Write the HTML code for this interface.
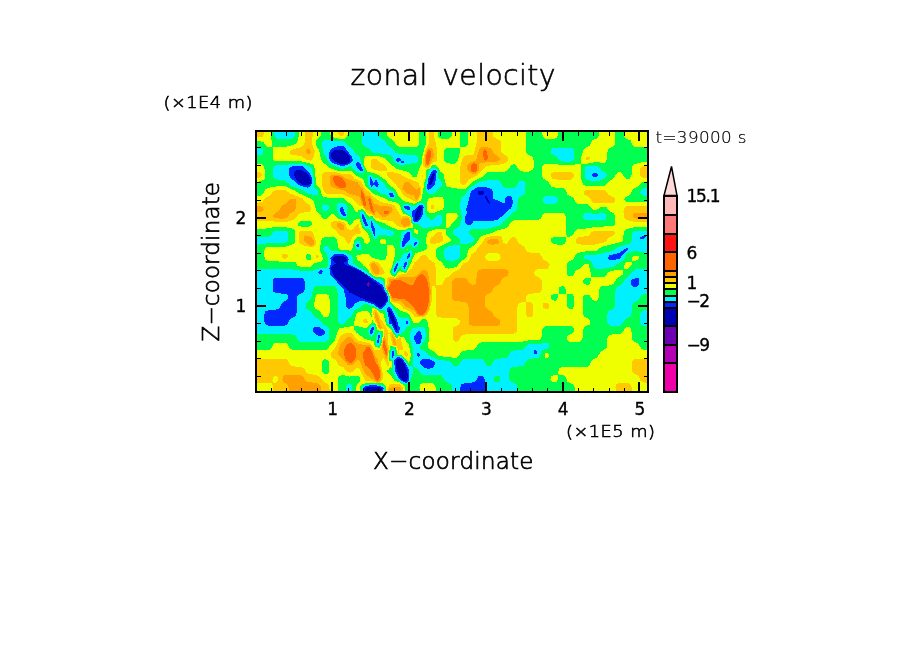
<!DOCTYPE html>
<html lang="en"><head><meta charset="utf-8"><title>zonal velocity</title>
<style>
html,body{margin:0;padding:0;background:#fff;}
body{width:904px;height:654px;overflow:hidden;}
svg{display:block;}
text{font-family:"Liberation Sans",sans-serif;fill:#000;}
.tk{font-family:"DejaVu Sans","Liberation Sans",sans-serif;stroke:#000;stroke-width:0.35px;}
.lf{font-family:"DejaVu Sans Light","DejaVu Sans","Liberation Sans",sans-serif;font-weight:200;stroke:#000;}
</style></head><body>
<svg width="904" height="654" viewBox="0 0 904 654">
<rect width="904" height="654" fill="#fff"/>
<defs><clipPath id="pc"><rect x="256" y="131" width="392" height="261"/></clipPath></defs>
<g clip-path="url(#pc)" shape-rendering="crispEdges" fill-rule="evenodd">
<rect x="256" y="131" width="392" height="261" fill="#6e00b4"/>
<path fill="#0000b4" d="M248.5,123.5 655.5,123.5 655.5,398.5 248.5,398.5ZM368,282 367,283 366.5,285 368,287 369,286.5 369.5,285 369.5,283Z"/>
<path fill="#0028ff" d="M248.5,123.5 655.5,123.5 655.5,398.5 248.5,398.5ZM331,153 331,156 332,159 334,161 337.5,163 341,164 345.5,164 348.5,163 350,161 350.5,159 349.5,156 347.5,153.5 342.5,150 335,150 333,151ZM295,171 294,173 294.5,176 296,179 299,182.5 302,184.5 305.5,185 308.5,185 310.5,183.5 311,181.5 310.5,178.5 308.5,175 306.5,173 303.5,171 300.5,170 297.5,170ZM434,173 432,174.5 430,179 429,184.5 430,185.5 432,183.5 434,179 435,174ZM478,191.5 477.5,193.5 479,195 482,195 483.5,193.5 483.5,191.5 482,190.5 480,190.5ZM485,196 484.5,196.5 487,201.5 489.5,204 489.5,202.5 489,200.5 486.5,196.5ZM421,206 420,206 418,207.5 414.5,215 414.5,219 414.5,220.5 416,221 418,220 421,214.5 422,208.5 421.5,206.5ZM333,257.5 332,259.5 332.5,260.5 336,263.5 333,265 331.5,266.5 331,268.5 332,272.5 336,279 346.5,289 349.5,292.5 366,300 374,303 379,307 381,307 383,306 386.5,301 387,298 385.5,294 381.5,287 370,278 362.5,272.5 355,268.5 344.5,264.5 344,263.5 344.5,262.5 346.5,261 347,259.5 346.5,258.5 345.5,257 342.5,256 339,255.5 336,256ZM389,309 388.5,311.5 391,320.5 395,328.5 396.5,330.5 397.5,329.5 395.5,321 392.5,313.5 390,310ZM397.5,358.5 396,360 395.5,363 396,367 397.5,372 399.5,376.5 401.5,379 403.5,381 405.5,381 407,380.5 408,377.5 407.5,373 406.5,369 404.5,364 402.5,361 399.5,358.5ZM364.5,389.5 365,390.5 367,391.5 374,392.5 379,391.5 381,390.5 382,389.5 381.5,388.5 380,387.5 373,386.5 367,387.5 364.5,388.5Z"/>
<path fill="#00f0ff" d="M248.5,123.5 655.5,123.5 655.5,398.5 484.5,398.5 484.5,378.5 483,376 480,375.5 478,376.5 476,380.5 474,382 472,382.5 465,383 461.5,384.5 460.5,387.5 460,398.5 376.5,398.5 376.5,394.5 377.5,393.5 382.5,391.5 383,390.5 383.5,388.5 382,387 380,386 373,385 369,385.5 365,386.5 363.5,387.5 363,389.5 363.5,391.5 364.5,392 372,394.5 372.5,398.5 248.5,398.5ZM330,150 329,154 329.5,159 331,162 333,163 340,165.5 345.5,165.5 349.5,164 353,160 352,157 346,149 343.5,146.5 340,146 337,146.5 332,148ZM395.5,160 396,161 397.5,162 400.5,161 401.5,160 401,159 399.5,158 397.5,158ZM401,162 401.5,163 402.5,163.5 404,163 404,162 402.5,160.5 401.5,161ZM356.5,162.5 356,164 357,168 360.5,171 362.5,171 363,170 362.5,169 360.5,164.5 358.5,162.5 357.5,162ZM290,167.5 289,169 288.5,173 289.5,176 290.5,178 294.5,181 298.5,185 300.5,186 307.5,187.5 309.5,187 310.5,186 312.5,182.5 312,178 309.5,173 304.5,168 302.5,166.5 299.5,166 293.5,166ZM435,170 433.5,170 431.5,172 428.5,178 427,186.5 427,188.5 428,190 430,189 434,185.5 435,184.5 436.5,173 436.5,171ZM592,174 592,176 593.5,177 596,177 597.5,176 597.5,174 595.5,172.5 593.5,172.5ZM370,177 369.5,178 369.5,181.5 371,186.5 372,187 373,185 374,184.5 377,187.5 378,186.5 378.5,184.5 377,180.5 376,179.5 374,183 373,182.5 371,177.5ZM465,222 467,224.5 469,225.5 471,224.5 472.5,223 473,221 474,220.5 493.5,220.5 497.5,220 504.5,214 508.5,209.5 510.5,209 511.5,207.5 513,202.5 512,197.5 509.5,195.5 507.5,196 505.5,198.5 504.5,203 503.5,203 493,198.5 492.5,191.5 491.5,189.5 490,188.5 484,186.5 481,186.5 478,187 472,190.5 470.5,192.5 468,203.5 466.5,207.5 466,209.5 467,213 465,217ZM389,193.5 389,194.5 390,196.5 392.5,197.5 394,196.5 393.5,194.5 392.5,193 390,192.5ZM421,204.5 419,205 414.5,210 411.5,211 411.5,211.5 411.5,214 412.5,217 413.5,221 414.5,222 417,222.5 419,221 420.5,219 422.5,215 423.5,207.5 423,205.5ZM404,206.5 404,207.5 405.5,209 407.5,210 409.5,209.5 410,207.5 408.5,206 405.5,205.5ZM341,207 340,208.5 340,210.5 341,213 343.5,216 344.5,216.5 345.5,216 345.5,214 343.5,209 342.5,207.5ZM361.5,213.5 362,218 363.5,222 365.5,226 367,226.5 368,225 363.5,215 362.5,213.5ZM371,220.5 370.5,225 373.5,234 375,236.5 375.5,234 374.5,228 372,222ZM408.5,231.5 406,233 405,234 401.5,244 401.5,246.5 402.5,247 404,246.5 406.5,243 410,240 410,233ZM639.5,238 640.5,239 643.5,238.5 645.5,237.5 646,236 644.5,235.5 642.5,236 640.5,237ZM417,241.5 416,241.5 414,243 414,245.5 414.5,246 416.5,244ZM357.5,243.5 357,244 356.5,245.5 357.5,247 358.5,247.5 359,245.5 358.5,244.5ZM628,248.5 627,248 625.5,248.5 619,253 609.5,255.5 608.5,256.5 608,258.5 609.5,260 612,260.5 620,258.5 621.5,255.5 627,250.5ZM410.5,252.5 409.5,252.5 407,256.5 406.5,258.5 407.5,259 409.5,256.5ZM332,256 330.5,258.5 331,263.5 329.5,268.5 330,274.5 343.5,289 345.5,297 346,306 347.5,308 348.5,309 350.5,308.5 352.5,307 355.5,303 361.5,300.5 363.5,301 373,304 379,308.5 382,308.5 384,307 388,301 388,298 387,294 384.5,290 383,285.5 382,284.5 375,280 362.5,271.5 349,264.5 348,263.5 348.5,259.5 348,257.5 345.5,255 342.5,254 339,254 334,254.5ZM405.5,262 404.5,263.5 403.5,266.5 404,268.5 404.5,269 405.5,267.5 406.5,264.5 406.5,262ZM397.5,263 396.5,263.5 394.5,268.5 394,270.5 394.5,272 396,270.5 398,264.5ZM320,270 319,271 318.5,272.5 319,274 321,274.5 322,273.5 322.5,271.5 322,270.5ZM302,278 298.5,277.5 279,277.5 276,277.5 273.5,279 272.5,281 272.5,285 272.5,290 273.5,292 276,293 286,294 288,296 288,298 287,300 282,303 280,307 278,309 276,309.5 269,310 265.5,311.5 264.5,313.5 264,318.5 264.5,322.5 265.5,324.5 267.5,325.5 270,326 285,325.5 287.5,324.5 290,319 295.5,316.5 296.5,313.5 297,299 297.5,296.5 299.5,294 303.5,292 305,289 304.5,281 303.5,279ZM636.5,278 632,279.5 630.5,282 631,285 633,287 636.5,287 638,286 639,284 639.5,282 639,280 638.5,278.5ZM389,307 387,308 387,309 388.5,316.5 388.5,322.5 389,323.5 391.5,324.5 395.5,332 396.5,333 398.5,332.5 400,328.5 398.5,325.5 397,320.5 393,311.5 390,307.5ZM406.5,321 406,323.5 406.5,324.5 407.5,324.5 408,321.5 407.5,321ZM313,328.5 313,331.5 314.5,333.5 316.5,335 320,336 322,335.5 324,334.5 324.5,333.5 324.5,331.5 323,329.5 319,327 315.5,326.5ZM373,326 371.5,327.5 370.5,330.5 370,333.5 371,334.5 372.5,333.5 373.5,330.5 374,327.5ZM419,331 417,332.5 414,336.5 413.5,337.5 414,339.5 416.5,344 418,344.5 420,344 420.5,343 422,337.5 421,332.5 420,331.5ZM379,334 378,336.5 377,343 378,344 379,341.5 380,335.5ZM535,350 534,350.5 533.5,352 534,354 535,354.5 536.5,354 537.5,352 536,350ZM393.5,350.5 392.5,351 391.5,355 391.5,357 392.5,358 393.5,356.5 394,352ZM418,352.5 417,353.5 416.5,355 418,356.5 419,356.5 419.5,356 419.5,354 419,353ZM397.5,357 395,359 394,362 395.5,372 399,378.5 401.5,381 404.5,382.5 406.5,382.5 408.5,380.5 409,378.5 409,372 408.5,369 405.5,363 402.5,359 399.5,357ZM420,361 420,363 421.5,365 424,367.5 427,368.5 430,368.5 432,368 434,366 435,364 434.5,362 433.5,361 430,359.5 423,359 421,360Z"/>
<path fill="#00ff50" d="M248.5,123.5 274,123.5 274,133.5 275,137 277,138.5 283,139 291,139 293.5,137.5 295,134.5 295,123.5 362,123.5 362.5,143.5 363.5,145.5 369,148.5 371,151 373,152.5 385,154 391.5,155.5 392.5,157 394,161 395.5,163 398.5,164.5 402.5,165.5 406.5,164 416,163 418,161 418.5,158 418,157 416,155.5 406.5,155 397.5,153.5 395.5,152.5 392.5,149 388,145.5 384.5,140.5 381,138.5 379,136.5 378.5,133.5 378.5,123.5 655.5,123.5 655.5,188 644.5,188 641.5,190 640.5,192.5 641.5,194.5 643.5,195.5 655.5,196 655.5,230.5 638.5,230.5 634,231 632,233 631.5,241 630.5,243 629,244 618,247 614,250 612,251 597.5,254.5 586,255 584,256.5 584,257.5 585,258.5 589.5,260 591.5,261.5 593.5,266.5 594.5,268 596.5,269 601.5,269 614,266.5 617,264 623,260.5 624.5,258.5 626,254.5 628,253 630,252 636.5,251 644.5,252.5 655.5,253 655.5,269 638.5,269 635,269.5 633,271 629.5,275.5 625,279.5 622,284 618,286.5 616.5,288 615.5,291 615,306 614,308.5 608.5,311.5 607.5,313.5 607,317.5 607.5,322.5 608.5,324.5 609.5,325.5 615,326 620,325.5 622.5,323.5 625,319 630.5,316.5 631.5,313.5 632,306 632.5,304 634,302.5 638.5,300 641.5,295 644.5,293.5 655.5,293.5 655.5,310 645.5,310 642.5,310.5 640.5,313 640,317.5 640,322.5 641,324.5 642.5,325.5 645.5,326 655.5,326 655.5,398.5 517.5,398.5 517.5,388.5 516.5,385.5 515,383.5 510.5,381.5 509.5,379.5 509,373 510,369 510.5,368 512.5,367 523,366 524,365 526,361 528,359 538.5,358 539.5,356.5 541.5,351 543.5,349.5 548,348 549,347 549,345 548.5,343.5 545.5,342.5 539.5,344 528,344.5 523,349.5 511.5,351 510.5,352 508.5,356 506.5,358 495.5,359 493.5,361 491.5,365 489.5,366 487,366 486,365 484,361 482,359 475,358.5 467,358.5 463.5,359 461.5,361 458.5,365.5 455.5,366 453.5,365.5 451,362 449.5,361 439,360 429.5,356 425.5,352 420.5,349 420,347 425,340 425.5,336.5 425.5,331.5 425,328.5 424,327 422,326.5 412,328.5 411.5,329.5 410,333.5 410,338.5 412.5,346 413.5,352 412.5,366.5 408.5,366 405.5,361 401.5,356.5 399.5,356 395.5,356.5 395,350 394.5,349 392.5,348.5 390.5,352 390,357 390,359 392.5,360 393,361 393.5,368 392.5,370 393,372 396.5,378.5 402.5,383.5 404.5,384 408.5,383 410,381.5 412.5,374 413,368 413.5,367 417,368 420.5,373 423,374.5 438,375 441.5,375.5 443,377.5 445.5,381.5 449.5,383.5 451.5,385.5 452,388.5 452,398.5 380,398.5 380.5,394.5 384,392.5 384.5,391.5 384.5,387.5 384,386.5 381,385 373,384 364.5,385 362,386.5 361.5,387.5 361.5,391.5 363.5,393.5 368,395 368.5,395.5 368.5,398.5 352,398.5 352,386.5 351,384.5 349.5,383.5 347.5,384.5 346,386.5 346,398.5 248.5,398.5 248.5,334 292,334.5 295.5,335.5 298.5,341 300.5,342 302.5,342 324,342 326,341.5 328.5,339.5 329,337.5 329.5,332.5 329,329.5 328,327.5 323.5,324.5 319.5,319.5 314.5,316.5 311.5,312 306.5,308.5 305.5,306 306.5,303 310.5,299.5 313.5,289 314.5,287 315.5,286 320,285.5 332,285.5 334,286 336.5,288 337.5,292 338,320.5 338.5,322.5 339.5,323.5 342.5,324 344.5,323 347.5,319 351,316.5 354.5,310.5 360.5,307 363.5,304.5 365.5,304 368,304.5 370,305.5 372,305.5 379,309.5 384,310 385,310.5 386.5,314.5 387.5,323.5 391.5,327.5 396.5,336 398.5,334 400.5,335 401.5,333 404,331.5 406,327.5 407.5,327 409.5,325.5 409.5,323.5 409.5,320.5 407.5,318.5 400.5,317.5 398.5,316.5 391.5,305.5 389,303 389.5,299 389.5,297 388,294 385,288 384.5,284 383,281 381,279.5 375,278.5 365.5,271 355.5,265.5 353.5,263.5 352,256.5 350.5,255 344.5,252.5 331,250.5 330,250 328,246.5 327,245.5 325,246 323.5,248.5 324,250.5 327,253.5 327.5,256.5 327.5,265.5 326.5,267.5 325,268.5 320,268 312.5,270.5 306.5,271 299.5,270.5 290,269 248.5,269 248.5,244.5 259.5,244.5 267.5,243 285,242.5 287,241.5 288,240.5 288.5,236 288,233 286.5,231 284,230.5 279,230.5 274.5,231 273,232 271,235.5 269,236.5 248.5,236.5 248.5,155.5 260.5,155 262.5,154 263.5,152 262.5,149.5 259.5,147.5 248.5,147.5ZM322.5,141.5 322,144.5 323.5,153 326,157 328.5,162 331,164.5 341,168.5 343.5,168.5 348.5,166.5 350.5,166 351.5,166.5 354,170 356.5,172 361.5,173 363.5,172 364.5,170 364,168 361,162 359.5,157 355.5,153.5 352.5,148.5 348.5,146 345.5,143 342.5,141.5 326,139.5 324,140.5ZM551,150 550.5,152 551.5,154 556.5,156.5 559,160 560.5,161 564,161.5 570,161.5 572,161 574,159 574.5,156 574,151 573,149 572,148 569,147.5 555.5,147.5 552.5,148ZM273,167 272.5,170 272.5,175 273,177 275,179 285,180.5 291,185.5 303,190.5 307.5,193.5 315.5,195.5 318,194.5 318,191.5 314.5,188.5 313.5,186.5 314,180.5 312.5,172.5 311.5,168 309.5,166.5 302.5,164 294.5,163.5 284,165 276,165.5 274,166ZM585,168 584.5,171 585,176 586,179 588.5,180 593.5,181.5 598.5,181 603.5,179 605,178 606.5,176 606.5,174 605.5,173 601.5,170.5 598.5,167 596.5,166 593.5,165.5 588.5,166 586,166.5ZM433,167.5 432,167.5 429,171 428.5,175 425.5,185.5 425.5,188.5 426,190.5 429,193.5 431,194 433,193.5 435,192.5 437.5,189.5 440.5,187.5 441.5,186 441.5,184.5 441.5,182 438,177 437.5,170 436,168.5ZM368,176 368,179 368,183.5 369.5,187.5 371,188.5 375,189.5 377,190.5 381,193.5 387,195 389,197.5 391.5,198.5 393.5,198.5 395,197.5 395.5,195.5 394.5,193 392.5,191 387,188.5 383.5,182.5 379,180 377,178 373,178 371,175 369,175.5ZM524,181.5 522,180.5 519,181 516,186.5 514.5,187.5 506.5,188 504.5,187.5 502.5,186.5 500.5,182.5 498.5,180.5 495.5,180 489.5,180 479,182 469.5,188.5 465.5,194.5 461.5,197.5 461,198.5 460,205.5 461.5,215 461.5,220 460,225 459,227 454.5,229.5 453,232 453.5,234 454,235 457.5,237 459.5,239 460,244 460.5,244.5 466,244 472,242.5 473.5,241 474,239 473.5,238 470,235 469,233 469,231 471,229 474,228.5 488,228.5 498.5,226 500.5,225 503.5,221.5 507,219 511,214 516,211 517,208.5 518,198.5 520,196.5 524,194.5 525,192.5 525.5,184.5ZM542.5,199.5 542.5,201.5 543.5,202.5 545,203.5 547.5,204 555,203.5 556.5,202.5 557.5,200.5 557.5,198.5 556.5,197.5 555,196.5 552.5,196 545,196.5 543.5,197.5ZM339,203 337,204.5 336.5,206.5 337,210.5 340,216 343.5,217.5 345.5,218 346.5,217 347,216 347.5,208.5 346.5,206.5 345.5,204.5 343.5,203.5 341,203ZM403,205.5 402.5,207.5 404.5,211.5 406,213 410.5,215.5 411.5,217 411.5,220 412.5,222.5 416,224 419,224 422,227.5 425,228 440.5,225.5 441.5,224 442,218 441.5,216 440.5,215 439,215 437,215.5 433,219.5 431,220 429,219 425,213.5 424.5,205.5 423,203.5 420,202.5 419,203 414.5,206.5 406.5,204 404.5,204.5ZM323,205.5 322,206.5 322,208.5 323.5,210.5 326,211.5 328,210 329,207.5 328,205.5 325,204.5ZM360.5,211.5 360,213 360.5,216 363.5,226 365.5,228.5 370,229.5 374,238.5 375,239 377,238 378,235.5 380,235 384,235 390,236 393.5,235 394,233 392.5,231 381,228 377,224 374,221.5 372,218.5 370,218.5 368,220.5 363.5,212 362.5,211ZM583,216 583.5,218 584,219 586,220 588.5,220.5 603.5,220 605.5,219 606.5,217 606,215 605,214 602.5,213 594.5,214 586,212.5 584,214ZM408.5,230 403.5,231 401.5,233 400,246.5 400,247.5 401.5,248.5 403.5,248.5 406.5,245.5 408.5,244.5 411.5,245 413,247.5 414.5,248 417,246.5 418.5,244 419,242 418.5,240 412.5,236.5 411,231ZM358.5,240.5 357.5,241 355.5,243 355,245.5 356.5,249.5 358.5,250.5 361,249.5 361.5,247.5 359.5,241ZM459.5,245 455.5,245 448.5,246.5 445,248.5 444,250.5 444,255.5 444.5,257.5 446,259.5 448.5,260.5 453.5,261 456.5,260 458.5,258.5 459.5,256.5 460,254.5 460,245.5ZM410.5,250 409.5,250.5 407.5,253 403.5,253.5 402,255.5 400,260.5 399.5,261 397.5,260.5 396.5,261 394.5,264.5 393,268.5 392,272.5 393,273.5 394.5,274.5 395.5,274 399.5,267 401.5,266 402.5,270 404.5,271 405.5,270.5 407.5,266.5 408.5,261.5 410.5,258.5 412,254.5 412.5,251.5ZM373,324.5 372,324.5 370.5,326.5 368.5,331.5 368.5,334.5 369.5,335.5 371,336.5 372,336.5 373.5,334.5 375,330.5 375,325.5ZM379,332 378,332.5 377,334.5 375.5,340.5 376,345 378,346 379,345.5 380,343.5 381.5,336.5 381,333ZM494.5,376.5 496.5,375.5 499.5,376 500.5,378.5 499.5,381.5 497.5,382.5 494.5,381.5 493.5,379.5Z"/>
<path fill="#f0ff00" d="M248.5,123.5 270.5,123.5 270.5,135.5 272,142.5 272,146.5 271,147 267.5,146.5 265.5,145 263.5,142.5 261.5,141.5 248.5,141ZM272.5,148 273,147.5 285,147 293.5,145 296,143.5 297.5,140.5 298.5,136.5 298.5,123.5 321.5,123.5 321,134.5 320,137 316,140.5 315.5,142.5 315.5,144.5 319,150 321,159 322.5,162 330,168 332,169 341,171.5 348.5,170.5 351.5,171 356.5,176 363,179 365.5,185.5 370,190.5 374,194 385,198.5 388,200.5 394.5,202 398.5,204 400,205.5 401,209.5 403.5,214 407.5,215 410.5,217 411.5,223 413,225 413.5,228 411.5,228.5 408.5,228 405.5,229.5 397.5,229.5 388.5,226 385,223.5 376,220.5 374,218.5 372,215.5 371,215.5 370,217 369.5,217 367,214.5 362.5,208.5 361.5,208.5 360.5,210 358.5,209.5 357.5,212 356.5,212 355,210.5 352,205.5 343.5,198.5 340,198 327,197.5 324,197 322,195.5 320,188.5 316,184.5 315,169 313.5,165 311.5,164 300.5,161 280,161.5 274,161 273,160 272.5,158ZM329.5,123.5 347.5,123.5 347.5,134.5 346.5,137.5 344.5,138.5 340,139 334.5,137.5 331,136 329.5,133.5ZM386.5,123.5 419.5,123.5 419,143.5 418,145.5 416,147 412.5,147 400.5,147 397.5,146 396,144.5 393.5,140.5 389,138 387.5,135.5 386.5,132.5ZM364,160 365,157 365.5,156 368,155.5 376,155.5 383,157.5 386,159 388.5,162 396.5,169 408.5,172 412.5,176.5 414.5,177 416,177 417,176 419.5,168 422,163.5 422.5,156 425.5,144.5 425.5,123.5 437.5,123.5 437.5,133.5 438,136.5 440.5,138.5 444.5,139 449,138.5 451.5,136.5 452,133.5 452,123.5 460,123.5 460,146.5 461.5,147 466,146.5 467,145.5 468,143.5 468.5,123.5 525.5,123.5 526,152 527,154 531,156 533,158 533.5,160 533.5,168 532.5,170 529,171.5 523,171.5 520,171 518,169 516,165 514,164 511.5,165 508,170 505.5,171.5 491.5,171.5 488,172 482.5,177 472,182 467,187.5 465,189 462.5,189.5 447.5,187 446,185.5 443.5,174 440.5,171.5 438.5,168 435,165 433,164.5 432,165 431,167 429,169.5 427,169 426,170 426.5,176 424.5,182.5 422.5,194.5 421,200.5 414.5,204 403.5,201 397.5,194.5 396,190.5 394.5,188.5 389.5,185.5 385,179.5 381,177 376.5,174 367,171.5 364.5,165.5ZM445.5,148.5 444,151 444,155 444,160 445,162 447,163 449.5,163.5 454.5,163.5 456.5,162.5 458,160 460,152 460,148 459.5,147.5 447.5,147.5ZM542,123.5 558,123.5 558,134.5 557,137.5 554.5,139 550.5,139 545.5,139 543.5,137.5 542,134.5ZM615.5,123.5 615,143.5 614,146 609.5,148 608,150 607.5,152 607,159 606,162 603.5,163 595.5,162 588.5,163.5 581,163.5 581,157 583.5,150 585,148 589.5,146 592,140.5 596.5,138.5 598.5,136.5 599,133.5 599,123.5ZM623.5,123.5 655.5,123.5 655.5,147 635,147 633,146 630.5,140.5 626,138.5 624,136.5 623.5,133.5ZM655.5,161.5 655.5,181.5 644.5,181.5 641.5,182.5 638,186.5 633,189 630.5,194.5 625,197.5 624,199.5 625.5,201.5 628,202 655.5,202.5 655.5,227 635,227 626.5,229 624,231 623,240 621,242 601.5,247 597.5,250 595.5,251 585,251.5 578,253 576,254.5 573,259.5 569,261.5 567,263.5 566.5,267.5 566.5,273.5 568,276 570,276.5 573,276 576,270.5 581,268 583.5,264.5 585,263.5 587.5,263.5 588.5,264.5 590.5,271.5 591,276.5 591.5,277 603.5,277 605.5,276 608,272.5 609.5,271.5 619,269.5 623.5,269.5 623,272.5 622.5,274.5 616.5,279 614,283 613,284 609.5,285.5 602.5,285.5 600.5,287 599,290 598.5,298 597.5,300 595.5,301 592.5,300 590,296 588.5,294.5 585,294.5 583.5,296 582.5,300 583,314.5 584,316.5 589.5,319.5 590.5,322.5 589.5,324.5 585,326.5 583.5,328.5 582.5,338.5 581,341 579,342 570,342 568,341 567,339.5 567,337.5 567.5,335.5 572,333.5 573.5,331.5 573.5,328.5 572,326.5 568,326 546.5,326 544.5,326.5 542.5,328.5 541.5,337.5 540.5,339 538.5,340 528,340.5 520,342 481,342.5 478,344 476,348 474,349.5 462.5,351 460.5,353 458.5,356.5 456.5,358 438.5,356 437,355 434,351.5 429.5,349 428,347 428,345 429,338.5 429,329.5 427.5,322.5 426,319.5 424,319 422,319.5 418,323 414.5,323.5 413.5,322.5 409.5,315 408.5,313.5 400,310.5 392.5,304.5 390,302 390,298 389,294 385.5,288 385,286 385.5,283 385,280 384,278 382,277.5 376,277 373,276 369.5,272.5 368,269 363.5,265.5 361,262.5 357.5,260 356.5,258.5 356.5,256.5 357.5,255 367,253.5 369,254 372,257.5 382,260.5 384,260 386,258.5 386.5,256.5 387,245.5 389,245 392.5,245.5 393.5,246.5 394.5,248.5 394.5,256.5 392.5,265.5 389.5,271.5 391.5,275.5 393.5,275.5 394.5,277 396.5,274.5 399.5,270.5 400.5,270.5 401.5,272 403.5,272 404.5,273 405.5,273 406.5,271.5 412.5,259.5 415,253.5 426,250 427,248.5 426,239 427.5,233 430,231 436,229 440.5,228.5 445.5,229 446.5,234.5 450.5,239 450.5,241 449.5,242 437,248 436,249.5 435.5,251.5 436,255.5 437,258.5 442.5,263 445.5,268 448.5,268.5 456.5,267 460.5,261.5 465,258.5 466.5,256.5 469,248.5 470.5,247.5 474,245.5 476,244 480,237 484,235 491.5,233 495.5,231 506.5,228 508,227 510.5,222.5 514,220.5 537,220 540.5,219 543,214 545.5,212.5 563,212.5 565,214 566,217 566.5,235 567,236.5 570,236.5 572,235.5 573.5,234 576,230 578,229 586,228.5 594.5,227 613,226 614.5,225 615,223 615,217 614,213.5 609.5,211 606.5,207.5 604.5,206.5 601.5,206.5 597,209.5 594.5,210 592.5,209.5 587.5,204.5 577,203.5 575,201.5 573,197.5 567.5,194.5 565,189 563,188 554.5,187.5 551.5,186.5 548.5,182 543.5,178.5 542.5,177 542,171 542.5,166 544.5,164 547.5,163.5 553.5,163.5 560.5,165 572,165 580,163.5 580.5,164 581,178 583,184.5 584.5,185.5 587.5,186 601.5,186 604.5,185.5 606.5,184.5 609,181.5 614,178 616,174 618,172.5 620,172 622,173 624,177 626,179 628,179 630,178.5 631.5,175 632,167 633,165 634.5,164 642.5,162ZM550.5,240 551,242 553,244 556.5,244.5 563,244.5 565,243.5 565.5,242 566,237 565,236.5 553.5,237 551.5,238ZM590.5,277.5 586,277.5 584,279 583,282 584,284 587.5,285 589.5,284 590.5,281 591,278ZM559.5,287 558.5,289 558.5,293 558.5,293.5 566,293.5 566.5,293 566,290 565,287 563,286ZM557.5,293.5 553.5,294 551.5,295 551,296 551,298 552.5,300 554.5,301 556.5,300 558,297 558,294ZM567,293.5 566.5,295 566.5,306 568,308 569,309 572,309 573,308 574,306 574,297 573,295 572,294ZM248.5,163.5 259.5,163.5 263,165 264,167 265.5,174 265,178 263.5,180 259.5,181.5 248.5,181.5ZM248.5,196 257.5,196 260.5,195.5 263,193.5 265.5,189 272,187 279,186 286,186.5 294.5,190.5 299.5,193.5 311.5,199 313,200.5 314,202.5 316,210.5 320,214.5 322,218 324,219.5 327,219 331,214.5 333,213.5 334,214 338,218.5 346.5,221 349.5,225 350.5,225.5 351.5,224.5 353,222 354.5,220 357.5,219 359.5,219.5 362.5,228 368,233 370,239 369.5,242 369,243 367,244 364.5,242.5 363.5,239 361.5,237.5 358.5,237 356.5,237.5 354.5,239.5 352,249.5 350.5,250.5 348.5,250.5 340,249.5 338.5,248.5 338,246.5 337,240 336,238.5 334,237 329,236.5 324,237.5 322.5,238 321.5,240 320,247.5 320,250.5 322.5,256.5 322.5,259.5 320.5,261.5 314,263.5 311.5,266 309.5,267 303.5,267.5 299.5,266.5 297.5,265.5 295.5,262.5 293.5,261.5 284,262.5 276,261 267,260.5 265.5,259.5 264.5,256.5 264,251.5 265,248.5 266.5,247 269,246.5 286,246.5 293,244 294.5,243 295,240 294.5,230 293.5,229 292,228.5 284,227 275,227 266.5,228.5 248.5,228.5ZM297.5,225 298.5,226 300.5,226.5 308.5,226.5 311,226 312.5,224 311.5,222 310,221 303.5,220.5 299.5,221.5 298,223ZM307.5,254 306,255.5 306,258.5 307.5,260 309.5,260.5 310.5,259.5 311,258.5 311,255.5 309.5,254ZM442.5,197.5 443.5,199.5 443.5,207.5 442.5,209.5 432,213.5 430,213 428,211.5 426.5,209.5 426.5,206.5 426.5,203.5 428,199.5 430,198 438,196.5 440.5,196.5ZM456.5,213.5 458,216 457,219 453,222 450,227 447.5,228 446,228 445.5,218 446.5,213.5 447.5,212.5 450.5,212.5 454.5,212.5ZM414.5,229 417,230 418,231 418,232 418,233.5 417,234 414.5,233 414,231ZM380,240 381,239 384,239 386,241 386.5,244 384,244.5 381,244 379.5,242ZM408,248.5 407.5,249.5 406.5,249.5ZM638.5,256.5 639,258.5 637.5,260 634,261 632,260.5 632,257.5 634,255.5 637,255.5ZM631.5,261.5 631.5,264.5 629.5,267.5 627,269 624,268.5 624,265.5 626,262.5 629,261.5ZM318,294 321,293.5 326,294 328,295 329,296 329.5,299 329.5,312.5 329,315.5 327,317 325,317 323.5,316.5 320,311.5 315.5,308.5 314,306 314,304 315.5,297 316.5,295ZM409.5,347.5 411,355 410,360 408.5,362.5 401.5,355.5 399.5,354.5 397.5,355.5 396.5,355 396.5,350 395.5,347 394.5,347.5 391.5,346 390,346 389,355 389,359 389,361 391.5,361 392,362 392,366 392.5,367 392,368 390.5,367 390,365.5 389,370.5 387,370 388,373 391.5,376 394.5,380.5 399.5,382.5 404.5,385.5 405,386.5 405.5,398.5 385,398.5 385,394.5 386,391.5 386,386.5 384,384 382,383 379,383.5 372,383 364.5,383.5 361.5,384.5 360,386.5 360,391.5 362,394.5 362,398.5 356,398.5 356,386.5 357,384.5 360,381.5 360,379.5 359.5,377.5 357.5,375.5 349.5,376.5 342.5,375 339,376 338,378.5 337.5,398.5 248.5,398.5 248.5,350.5 269,350 271,349 274,343.5 276,342.5 280,342.5 286,343 288,345 290,349 293.5,350 322,350.5 326,350 328,348.5 330.5,345 335,340 337.5,331.5 339,328.5 349.5,326.5 353.5,326 354,325.5 354.5,321.5 356,314.5 357.5,312.5 364.5,310.5 367,310.5 369,312.5 372,317.5 371.5,313.5 372,308 373,308 376,309 379,311.5 380,312.5 383,313.5 384,315.5 386,324.5 391,329.5 395.5,337 397.5,338.5 398.5,336 400.5,337 403.5,336.5 405.5,340.5 408.5,344.5ZM354,326.5 354.5,329.5 356.5,332.5 360.5,335.5 364,338.5 374,341.5 375,347.5 377,347 379,348.5 380,347 381.5,343 382.5,336.5 382.5,331.5 382,330.5 380,331 378,329.5 377,330 376,324.5 373.5,322.5 373,320 372,320.5 371.5,322.5 369,326 367,327.5 363.5,327.5 356.5,326ZM325,359 323,360 322,361.5 321.5,368 322.5,372 324,373.5 326,374 328,373.5 329,371.5 329.5,365 328.5,361 327,360ZM655.5,350.5 655.5,398.5 574.5,398.5 574.5,387.5 573,384.5 567.5,381.5 565,376 563,375 558.5,374.5 558,374 559,369 559.5,368 561.5,367 587.5,366.5 589.5,365.5 592,360 597.5,357 600.5,352 604.5,349.5 606.5,348 607,346 607.5,338.5 608.5,335.5 612,334.5 621,333.5 623,331.5 625,328 627,327 629,327 631,328.5 632.5,339.5 634,341.5 638.5,344 641.5,349 644.5,350ZM547.5,353 549,354 549,356 547.5,357.5 545.5,357.5 544.5,356 544.5,354 546,353ZM557.5,375 558,375.5 558,378.5 556.5,381.5 554.5,382.5 551.5,381.5 550.5,379.5 551.5,376.5 553.5,375ZM420.5,384.5 423,383 427,383 432,383 434,384.5 435.5,387.5 435.5,398.5 419.5,398.5 419.5,387.5Z"/>
<path fill="#ffc800" d="M248.5,123.5 264,123.5 264,132.5 263.5,135.5 262.5,136.5 259.5,137 248.5,137.5ZM305,123.5 313,123.5 313,134.5 311.5,142.5 314.5,150 314.5,153 313,159 310.5,160.5 306.5,160 301.5,156 292,155 290,154 289.5,153 290,151 291,150 301.5,147 303,145.5 304.5,143.5 305,140.5ZM337.5,123.5 344,123.5 344,133.5 343.5,135 342.5,135.5 339.5,135.5 338,133.5ZM433.5,123.5 434,135.5 437,149 437.5,159 436,161.5 432,163 429,168 425,168 424,167 423,165 423.5,158 425.5,150 429,143.5 429.5,123.5ZM493,123.5 493,133.5 493.5,136.5 495.5,138.5 499.5,140.5 500.5,141.5 501.5,152 503.5,154 508,157 508.5,159 508,161 505.5,163 500.5,164.5 489.5,165.5 487,166 476,176 469,179.5 465,185 462.5,185 460.5,183.5 460,181.5 460,170 460.5,166 462.5,159 463.5,156.5 466,155.5 472,155 474,153 476.5,142.5 476.5,123.5ZM585.5,158 586,157 588.5,156.5 589.5,157 589.5,159 588.5,160 586,160 585.5,159ZM371,160 372,159 374,158.5 377,159 380,162.5 384,164.5 385.5,166 386.5,168 386.5,171 382,171.5 374,169.5 372,168.5 371,167 370.5,165ZM641,167 642.5,166 644.5,165.5 655.5,165.5 655.5,178 644.5,178 641.5,177 640,175 640,169ZM248.5,171.5 259.5,172 261.5,174 261.5,176 260.5,177 258.5,178 248.5,178ZM322,174 324.5,172 329,171.5 335,172 342.5,174 348.5,173.5 350.5,174 354.5,178.5 361,181.5 364.5,188.5 370,192.5 373,197 376,198.5 381,202 392.5,204.5 394.5,205.5 396,207.5 397.5,211 401.5,216.5 406.5,216 409.5,217.5 411,221 411,225 409.5,226.5 404.5,228 397.5,226 393.5,222 392,221 382,220 377,217.5 376,218.5 371,213 370,214.5 367,213 362.5,206.5 361.5,206 360.5,206.5 359.5,206 352,198.5 342.5,194.5 328,194 325.5,193.5 324,191.5 321.5,183.5 321.5,177ZM387,172 388,171.5 391.5,172 400.5,174 404.5,177 418.5,182.5 419.5,185.5 421,187.5 421.5,190.5 420.5,196.5 418,200.5 417,201.5 414.5,201.5 405.5,197 403.5,195.5 402,193.5 400,189.5 396.5,185.5 393.5,181.5 388.5,177 387,175ZM550.5,175 551.5,173 553.5,172 569,171.5 571.5,172 573,173 573.5,174 574,176 573,178 571,179.5 556.5,179.5 552.5,178.5 551.5,177ZM423,174 423.5,176 423,177.5 422,177 422,175ZM248.5,220.5 248.5,202.5 258.5,202.5 262.5,201.5 266,197.5 271,195 273,191.5 276,190 285,190 290,193.5 302.5,198.5 306.5,203 309.5,205 311,207.5 311,209.5 309.5,211.5 300.5,213 298.5,214.5 294.5,219.5 288,221.5 277,222 266.5,220.5ZM583.5,191.5 585,190 588.5,190 604.5,190 606.5,191.5 608.5,194.5 614,197.5 615,199.5 614.5,201.5 614,202.5 612,203.5 603.5,202.5 594.5,203.5 592,201.5 589.5,197.5 584,194.5 583.5,192.5ZM431,205.5 433,205 434,206 434.5,207.5 434,208.5 432,209.5 430.5,208.5 430.5,206.5ZM624,208 625.5,206.5 628,206 655.5,206 655.5,222 635,222 626.5,220 625,219 624,217 623.5,211.5ZM330.5,224 331.5,222 334,221 339,221 343.5,222 345.5,224 347.5,229 350.5,230 353.5,229 356.5,224.5 357.5,224 358.5,224.5 361,232 359.5,233.5 355.5,234.5 353.5,236 352,238 350.5,242.5 348.5,243.5 346.5,242 344.5,238 339.5,235 335.5,230 331,227 330.5,226ZM299.5,232 300.5,231 303.5,230.5 308.5,230.5 311.5,231 313,233 316,241 316,243 315.5,245.5 313.5,246.5 310.5,247 304.5,246 300.5,244 299.5,243 298.5,240 299,234ZM614.5,232 614.5,234 614,235 608.5,238 606.5,241 603.5,242.5 594.5,244.5 581,244.5 577,244 575.5,242 575.5,240 577,238 579,237 588.5,236 589.5,235 591.5,232 594.5,230.5 610.5,230.5 613.5,231ZM441.5,232.5 443,238 443,240 442.5,241 440.5,242.5 434,244 431,243.5 430,242 430,240 431,237.5 434,235.5 437.5,232 439,231.5ZM549.5,264.5 549,266.5 547.5,268.5 537,269.5 535,270.5 534.5,271.5 534,273.5 535,275.5 540.5,278.5 541.5,280.5 542,284 541.5,290 540.5,292 538.5,293 528,294 526,296 525.5,300 526,301.5 530.5,302 533,304 533.5,308 533,315 532,316.5 530,317.5 527,316.5 525.5,313.5 525.5,302 525,301.5 522,302 519,303 518,304.5 517.5,307 517,330.5 516,332.5 512.5,334 465,334.5 461.5,335.5 458.5,341 456.5,341.5 454.5,341.5 453.5,340.5 452.5,338.5 452.5,329.5 453.5,327.5 459,324.5 459.5,322.5 459.5,320.5 458.5,319.5 456.5,318 440.5,317.5 437,316.5 436,314.5 435.5,312.5 435.5,288 435,285.5 433,286 432,286.5 431.5,302 429.5,310.5 426,316 424,317 421,317.5 414.5,316.5 410.5,311.5 403.5,308.5 399.5,304 391.5,302 390.5,301 390.5,298 389.5,294 386,288 386,286 387,284 387,279 388,277 392.5,277 394.5,278 395.5,278 398.5,275 402.5,274 405.5,274 411.5,268.5 414.5,262.5 418,259.5 420.5,256.5 423,255 426,255.5 429,259.5 433,262 434.5,263.5 435.5,267.5 436,285 438,285.5 441.5,284.5 443,283 445.5,278.5 449.5,276 453.5,272 459.5,269.5 463.5,263.5 467,262 469,260.5 471.5,254.5 475.5,251.5 478,247.5 481.5,244 485,238 487,237 495.5,235.5 498.5,235.5 500.5,236 502,238 503.5,243 505.5,244 507.5,243 510.5,238 512.5,237 515,237.5 516.5,239 519,243.5 524,246.5 527,251.5 530,252.5 537,253 539.5,253.5 541,255.5 543,259.5 548.5,262.5ZM485,256.5 485.5,258.5 486,259.5 488,260.5 490.5,261 498,260.5 499.5,259.5 500.5,257.5 500,255.5 499.5,254.5 498,253.5 495.5,253 487.5,253.5 486,254.5ZM281.5,255.5 283,253.5 285,253.5 287,254.5 288,256.5 286,258.5 284,258.5 282,257.5ZM316.5,254.5 318,255.5 318.5,256.5 318,258 316.5,258 315.5,256.5 316,255.5ZM370,262.5 372,261.5 374,261 378,262.5 384,270.5 384.5,272.5 384,273.5 382,274.5 378,275.5 375,275.5 373,274.5 371.5,272.5 369.5,266.5 369,264.5ZM543.5,303 545.5,302.5 547.5,303 548.5,304 549.5,306 548.5,308.5 545.5,309 543.5,308 542.5,305ZM375,310 376.5,310.5 378,312.5 381,320 383,322 387.5,329.5 388.5,333.5 388,341.5 389,349 388,358 388,361 388.5,362 388.5,366 387,365.5 384,358.5 383,358 382,359 381,364 382.5,372 382.5,378.5 381,381.5 380,382.5 378,383 373,381.5 368,381 365,380.5 364,378.5 359.5,369 358.5,368 356.5,368 351.5,372.5 349.5,372.5 347.5,372 343.5,367.5 339,365.5 336,360.5 331.5,357 330.5,355 331,352.5 335,348.5 340.5,335.5 343.5,334 347.5,332.5 350.5,333 352.5,334 356.5,339 358.5,340.5 370,343.5 372,345.5 374,349.5 375,350 377,349.5 378,350.5 379.5,350 381,347 382.5,339.5 383.5,337.5 383.5,329.5 382,328.5 380,330 379,328.5 378,328 377,323.5 375,321.5 373,312.5 373.5,310.5ZM364.5,319 367,319 367.5,320.5 367.5,322.5 365.5,323.5 363.5,322.5 363,321.5 363.5,319.5ZM390,332 392.5,332.5 396.5,339.5 397.5,339.5 399.5,338 400.5,338.5 402.5,346 402.5,350 399.5,350 399,354 397.5,355 397,353 398,352 398.5,349 397,348 397,346 394.5,346.5 393.5,346 392.5,345 390,335.5 389.5,333.5ZM403.5,351 405.5,351 407,352 408,354 407.5,356 406.5,356.5 404.5,355 403.5,353ZM248.5,358.5 282,358.5 286,359 288,361 290,365 291,366 302.5,367.5 304.5,369 306.5,372.5 308.5,374 316.5,375 320,377 323,381 328,384 329,385.5 329.5,388.5 329.5,398.5 272.5,398.5 272.5,384.5 272,383 248.5,383ZM277,376 275,375.5 273,377.5 272.5,380.5 273,382.5 276,382.5 278,381 278,377.5ZM633,360 635,359 655.5,358.5 655.5,383 645.5,383 642.5,382 640.5,380.5 638.5,376 633,373 632,371 631.5,366 632,362ZM390,363 391.5,363 391.5,363.5ZM389.5,384.5 391,383.5 399.5,384 401.5,385.5 403,388.5 403,398.5 388.5,398.5 388.5,392.5 387,389.5ZM616.5,384.5 619,383 623,383 628,383 630,384.5 631.5,387.5 631.5,398.5 615.5,398.5 615.5,387.5Z"/>
<path fill="#ffa000" d="M430,147.5 431,148 433,150 433.5,153 433.5,157 429.5,165 428,166.5 425.5,166 424.5,164 424.5,157 427,149.5 428,148ZM499.5,158 499.5,160 497.5,161.5 488,162 480,163.5 479,165 479,170 477.5,172 476,173.5 474,174 472,173.5 469,172 467.5,170 467,167 468,164 470,162.5 476,160.5 479,150 481,147.5 485,147 490.5,148 492,150 494,154 498.5,156.5ZM307.5,148.5 309.5,149 310.5,150.5 310.5,152.5 309.5,154 307.5,154 306,152 306.5,150ZM330,176 331,175 333,174.5 338,174.5 341,175.5 345.5,178.5 357.5,182.5 359,184.5 360.5,187.5 361.5,187.5 362.5,188.5 365.5,195 367,196 369,195.5 370,196 374,203.5 379,205.5 388.5,206.5 391.5,207.5 392.5,209.5 391,213 388,215.5 385,217 383,217 381,216 378,212 376,211 375.5,211.5 375,215 374,215 369,210.5 367,210 364.5,208 362,204.5 359.5,197 358.5,196 349.5,194 344.5,190.5 338,189 333,187.5 331,186.5 329.5,183.5 329.5,178ZM404.5,182.5 406.5,182 408.5,182.5 416,189.5 417,189.5 419,188 419.5,188.5 420,190.5 420,193 419,196.5 417,199.5 415.5,199.5 414,195.5 406.5,193.5 403.5,190.5 402.5,188.5ZM295.5,199.5 296.5,202.5 296,208.5 294.5,211 290,213.5 287,217.5 284,218.5 279,218.5 275,218 273.5,217 273,216 274,214 279,211 282,205.5 287,203 290,199 293.5,198.5ZM248.5,206 261.5,206.5 263,207.5 263.5,209.5 261.5,211.5 259.5,212 248.5,212ZM632.5,215 634,213 636.5,212.5 655.5,212.5 655.5,218.5 636.5,218.5 633,217ZM401,220 403.5,217.5 405.5,217.5 407.5,217.5 408.5,218.5 409.5,220 410,224 408,226 405.5,226.5 403.5,226.5 401,224 400.5,222ZM337.5,223 340,223 343.5,225 344.5,228 343.5,230 341,230 338,228 336.5,225ZM304.5,236 305.5,235.5 308.5,235.5 311.5,237.5 314,241 314.5,243 313.5,245 311.5,245.5 310,245.5 308,244 305.5,242 303.5,239 303.5,237ZM487.5,241 489.5,239.5 495.5,239 497.5,239 498.5,241 498.5,242.5 497.5,244 493.5,244.5 490.5,244.5 488,244 487,242.5ZM372,263.5 373,263 375,263.5 378,266.5 379.5,270.5 379,273.5 378,274 376,274 374,272.5 373,271.5 371,266.5 371,264.5ZM389,279 391.5,278.5 395.5,278.5 398.5,277.5 413.5,277 416,276 422,270 424,269.5 426,270.5 427.5,272.5 429,278 430.5,289 430.5,295 429.5,306 427.5,311.5 425.5,314.5 424,315.5 422,316.5 419,316 417,314.5 414.5,311 405.5,306 401,301 399.5,300.5 392.5,300.5 392,300 390,294 387,290 386.5,288 388.5,284 388.5,281ZM454,279 457.5,277.5 465,277.5 467,279 470,284 473,285 475,284 476,283 477,272.5 478,270.5 479,270 483,269 502.5,269 505.5,269.5 507.5,270.5 508.5,272.5 508,275.5 502.5,278.5 499.5,284 494.5,286.5 491.5,292 486,295 485,298 484.5,304 485.5,307 487,309 491.5,311.5 494.5,316.5 499.5,319.5 500.5,322.5 499.5,324.5 498,325.5 495.5,326 477,326 472,325.5 469.5,324.5 468.5,321.5 468.5,307 467.5,304 467,303 465,302 455,301 453.5,300 452.5,298.5 452,295 452,283 452.5,281ZM375,312 376,312 377.5,314.5 380,324.5 381.5,327.5 380,329.5 378.5,326.5 378,323.5 376,320.5 375,315.5ZM392.5,334.5 394.5,339 396,344 395.5,345 394.5,345.5 393.5,343.5 392,335.5ZM347.5,337 348.5,336.5 350.5,337 354.5,341.5 357.5,343.5 364.5,345 368,344.5 370,345.5 371,347 373,351 375,356 377.5,359 378.5,364 381,370 381.5,377.5 380,380.5 379,381.5 378,381.5 376,381.5 374,379.5 371,378.5 365.5,374 359.5,361 358.5,360 357.5,359.5 352.5,364.5 349.5,365.5 347.5,364.5 343.5,359.5 339,356 338,353 340,345ZM384,336 385,336.5 388,349 388,353 387,359 386,359 382,349 383,339.5 383.5,338.5ZM283,376.5 284,375.5 286,375 300.5,375 303.5,377 305.5,380.5 307.5,382 316.5,383 319,384 320,385.5 321,387.5 321.5,398.5 288.5,398.5 288.5,386.5 287,384 284,382.5 283,381 282.5,379.5ZM389,388.5 391.5,387 397.5,386.5 400.5,388 401,389.5 400.5,392.5 400.5,398.5 395,398.5 395,393.5 394.5,392.5 389,390.5 388.5,389.5Z"/>
<path fill="#ff6400" d="M430,149.5 431,153 430.5,158 429,163 428,164.5 427,165 426,164 426,162 426.5,155 428,150.5 429,149.5ZM485,149 486.5,151 487.5,155 487.5,159 486,160.5 485,160.5 484,159.5 483,155 483.5,151 484,149.5ZM474,163 476,164 477,165 477.5,168 476.5,171 475.5,172 474,172.5 471.5,171 470.5,168 471.5,165 472,164ZM334,176.5 336,175.5 338,176 342.5,178 346,183.5 346,185.5 345,187.5 343.5,188 341,188 339,187.5 336,185.5 334,182.5 333,180.5 333,178ZM361.5,190 363,192.5 365,198.5 366,204.5 365.5,206.5 364.5,206 363.5,204.5 361.5,197.5 360.5,191.5 360.5,190.5ZM369,198 370.5,199.5 372.5,205.5 373.5,210.5 373.5,213 373,213 371,210.5 369.5,205.5 368,199.5ZM388.5,211.5 388.5,213 387,214 385,214 383.5,213 383.5,211.5 385,210.5 387,211ZM391.5,281 394.5,280 399.5,280 409.5,285 412.5,285.5 413.5,284.5 416.5,278 419,275 422,274 424.5,275.5 426.5,279 428,283.5 429.5,294 429,300.5 428,306 426.5,310.5 424.5,313.5 422,315 419,314.5 417,312 414.5,308 412.5,306 409.5,303 404.5,299 396.5,298.5 392.5,298 388,289 388,287 390,285ZM384,339.5 387.5,352 387,354 386,355 383,346 383.5,340.5ZM349.5,343 351.5,343.5 354.5,346 356,349 356.5,353 356,357 354.5,360 352.5,362 350.5,363 348.5,362.5 346.5,360.5 345,358 344,354 344.5,349 346,346 347.5,344ZM367,346.5 369,346.5 371,349.5 373,354 375,361 379,368 380,372.5 380,376.5 379,379.5 378,380.5 377,380.5 375,378.5 373,374 370,369 365.5,365.5 364.5,363 362.5,354Z"/>
</g>
<g shape-rendering="crispEdges" fill="#000">
<rect x="255" y="130" width="394" height="2"/>
<rect x="255" y="391" width="394" height="2"/>
<rect x="255" y="130" width="2" height="263"/>
<rect x="647" y="130" width="2" height="263"/>
<rect x="271" y="388" width="1" height="4"/>
<rect x="271" y="131" width="1" height="5"/>
<rect x="286" y="388" width="1" height="4"/>
<rect x="286" y="131" width="1" height="5"/>
<rect x="301" y="388" width="1" height="4"/>
<rect x="301" y="131" width="1" height="5"/>
<rect x="317" y="388" width="1" height="4"/>
<rect x="317" y="131" width="1" height="5"/>
<rect x="331" y="382" width="2" height="10"/>
<rect x="331" y="131" width="2" height="10"/>
<rect x="348" y="388" width="1" height="4"/>
<rect x="348" y="131" width="1" height="5"/>
<rect x="363" y="388" width="1" height="4"/>
<rect x="363" y="131" width="1" height="5"/>
<rect x="378" y="388" width="1" height="4"/>
<rect x="378" y="131" width="1" height="5"/>
<rect x="394" y="388" width="1" height="4"/>
<rect x="394" y="131" width="1" height="5"/>
<rect x="408" y="382" width="2" height="10"/>
<rect x="408" y="131" width="2" height="10"/>
<rect x="424" y="388" width="1" height="4"/>
<rect x="424" y="131" width="1" height="5"/>
<rect x="440" y="388" width="1" height="4"/>
<rect x="440" y="131" width="1" height="5"/>
<rect x="455" y="388" width="1" height="4"/>
<rect x="455" y="131" width="1" height="5"/>
<rect x="470" y="388" width="1" height="4"/>
<rect x="470" y="131" width="1" height="5"/>
<rect x="485" y="382" width="2" height="10"/>
<rect x="485" y="131" width="2" height="10"/>
<rect x="501" y="388" width="1" height="4"/>
<rect x="501" y="131" width="1" height="5"/>
<rect x="517" y="388" width="1" height="4"/>
<rect x="517" y="131" width="1" height="5"/>
<rect x="532" y="388" width="1" height="4"/>
<rect x="532" y="131" width="1" height="5"/>
<rect x="547" y="388" width="1" height="4"/>
<rect x="547" y="131" width="1" height="5"/>
<rect x="562" y="382" width="2" height="10"/>
<rect x="562" y="131" width="2" height="10"/>
<rect x="578" y="388" width="1" height="4"/>
<rect x="578" y="131" width="1" height="5"/>
<rect x="593" y="388" width="1" height="4"/>
<rect x="593" y="131" width="1" height="5"/>
<rect x="609" y="388" width="1" height="4"/>
<rect x="609" y="131" width="1" height="5"/>
<rect x="624" y="388" width="1" height="4"/>
<rect x="624" y="131" width="1" height="5"/>
<rect x="638" y="382" width="2" height="10"/>
<rect x="638" y="131" width="2" height="10"/>
<rect x="256" y="376" width="5" height="1"/>
<rect x="644" y="376" width="4" height="1"/>
<rect x="256" y="358" width="5" height="1"/>
<rect x="644" y="358" width="4" height="1"/>
<rect x="256" y="341" width="5" height="1"/>
<rect x="644" y="341" width="4" height="1"/>
<rect x="256" y="323" width="5" height="1"/>
<rect x="644" y="323" width="4" height="1"/>
<rect x="256" y="305" width="10" height="2"/>
<rect x="638" y="305" width="10" height="2"/>
<rect x="256" y="288" width="5" height="1"/>
<rect x="644" y="288" width="4" height="1"/>
<rect x="256" y="270" width="5" height="1"/>
<rect x="644" y="270" width="4" height="1"/>
<rect x="256" y="253" width="5" height="1"/>
<rect x="644" y="253" width="4" height="1"/>
<rect x="256" y="235" width="5" height="1"/>
<rect x="644" y="235" width="4" height="1"/>
<rect x="256" y="217" width="10" height="2"/>
<rect x="638" y="217" width="10" height="2"/>
<rect x="256" y="200" width="5" height="1"/>
<rect x="644" y="200" width="4" height="1"/>
<rect x="256" y="182" width="5" height="1"/>
<rect x="644" y="182" width="4" height="1"/>
<rect x="256" y="165" width="5" height="1"/>
<rect x="644" y="165" width="4" height="1"/>
<rect x="256" y="147" width="5" height="1"/>
<rect x="644" y="147" width="4" height="1"/>
</g>
<g shape-rendering="crispEdges">
<rect x="663" y="195" width="15" height="198" fill="#000"/>
<rect x="665" y="197" width="11" height="17" fill="#ffb8b8"/>
<rect x="665" y="216" width="11" height="17" fill="#ff7878"/>
<rect x="665" y="235" width="11" height="16" fill="#ff1414"/>
<rect x="665" y="253" width="11" height="17" fill="#ff6400"/>
<rect x="665" y="272" width="11" height="4" fill="#ffa000"/>
<rect x="665" y="278" width="11" height="4" fill="#ffc800"/>
<rect x="665" y="284" width="11" height="4" fill="#f0ff00"/>
<rect x="665" y="290" width="11" height="5" fill="#00ff50"/>
<rect x="665" y="297" width="11" height="4" fill="#00f0ff"/>
<rect x="665" y="303" width="11" height="4" fill="#0028ff"/>
<rect x="665" y="309" width="11" height="16" fill="#0000b4"/>
<rect x="665" y="327" width="11" height="17" fill="#6e00b4"/>
<rect x="665" y="346" width="11" height="16" fill="#b400b4"/>
<rect x="665" y="364" width="11" height="27" fill="#f000aa"/>
</g>
<path d="M664,195.5 L671.5,166.5 L677,195.5 Z" fill="#ffd8d8" stroke="#000" stroke-width="1.5" stroke-linejoin="miter"/>
<text id="title" class="lf" transform="translate(350.5,84.6) scale(1.03,1)" font-size="27.5" textLength="199.029" stroke-width="0.55">zonal<tspan dx="5"> </tspan>velocity</text>
<text id="ul" class="lf" transform="translate(163.5,108.3) scale(1.15,1)" font-size="15.5" textLength="77.3913" stroke-width="0.55">(×1E4 m)</text>
<text id="tl" class="lf" transform="translate(655.5,142.6) scale(1.08,1)" font-size="15.5" textLength="84.2593" stroke-width="0.2">t=39000 s</text>
<text id="ur" class="lf" transform="translate(566,437.3) scale(1.15,1)" font-size="15.5" textLength="77.3913" stroke-width="0.55">(×1E5 m)</text>
<text id="xl" class="lf" transform="translate(373,468.6) scale(1,1)" font-size="23" textLength="160.5" stroke-width="0.7">X−coordinate</text>
<text id="yl" class="lf" transform="translate(218.6,341.5) rotate(-90)" font-size="23" textLength="159.5" stroke-width="0.7">Z−coordinate</text>
<text x="332.7" y="414.6" font-size="17" text-anchor="middle" class="tk">1</text>
<text x="409.5" y="414.6" font-size="17" text-anchor="middle" class="tk">2</text>
<text x="486.3" y="414.6" font-size="17" text-anchor="middle" class="tk">3</text>
<text x="563.1" y="414.6" font-size="17" text-anchor="middle" class="tk">4</text>
<text x="639.9" y="414.6" font-size="17" text-anchor="middle" class="tk">5</text>
<text x="246.3" y="312.1" font-size="17" text-anchor="end" class="tk">1</text>
<text x="246.3" y="224.1" font-size="17" text-anchor="end" class="tk">2</text>
<text x="686.5" y="201.7" font-size="17" text-anchor="start" class="tk" textLength="34">15.1</text>
<text x="686.5" y="258.7" font-size="17" text-anchor="start" class="tk">6</text>
<text x="686.5" y="288.7" font-size="17" text-anchor="start" class="tk">1</text>
<text x="686.5" y="307.2" font-size="17" text-anchor="start" class="tk" textLength="23.5">−2</text>
<text x="686.5" y="351.2" font-size="17" text-anchor="start" class="tk" textLength="23.5">−9</text>
</svg></body></html>
